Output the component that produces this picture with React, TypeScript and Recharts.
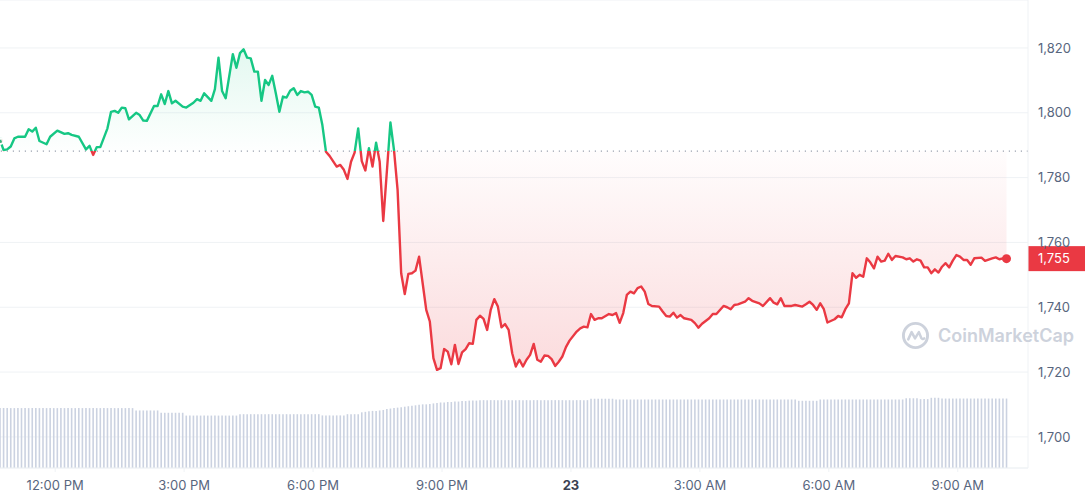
import React from 'react';
import {
  ComposedChart,
  Area,
  Line,
  Bar,
  XAxis,
  YAxis,
  CartesianGrid,
  ReferenceLine,
  ReferenceDot,
} from 'recharts';

const FONT = 'Inter, "Noto Sans", sans-serif';
const GREEN = '#16c784';
const RED = '#ea3943';
const MUTED = '#58667e';
const GRID = '#eff2f5';

// price 24h ago, the dotted reference
const OPEN_PRICE = 1788.2;

// x ticks, minutes after 12:00 PM
const TICK_MINUTES = [0, 180, 360, 540, 720, 900, 1080, 1260];
const TICK_LABELS = ['12:00 PM', '3:00 PM', '6:00 PM', '9:00 PM', '23', '3:00 AM', '6:00 AM', '9:00 AM'];
const PRICE_TICKS = [1700, 1720, 1740, 1760, 1780, 1800, 1820];

// price samples: minutes after 12:00 PM and value
const priceMinutes = [
  -77, -72, -67, -62, -57, -52, -42, -37, -32, -27, -22, -12, -7, 3, 13, 18, 23, 33, 43, 48,
  53, 58, 63, 73, 78, 83, 88, 93, 98, 103, 113, 118, 123, 128, 138, 143, 148, 153, 158, 163,
  168, 178, 183, 193, 198, 203, 208, 218, 223, 228, 233, 238, 248, 253, 258, 263, 268, 273, 278, 283,
  288, 293, 298, 303, 308, 313, 318, 323, 328, 333, 338, 343, 348, 353, 358, 363, 368, 373, 378, 383,
  393, 398, 403, 408, 413, 418, 423, 428, 433, 438, 443, 448, 453, 458, 468, 473, 478, 483, 488, 493,
  498, 503, 508, 513, 518, 523, 528, 533, 538, 543, 548, 553, 558, 563, 568, 573, 578, 583, 588, 593,
  598, 603, 608, 613, 618, 623, 628, 633, 638, 643, 648, 653, 658, 663, 668, 673, 678, 683, 688, 693,
  698, 703, 708, 713, 718, 728, 733, 738, 743, 748, 753, 758, 763, 773, 778, 783, 788, 793, 798, 803,
  808, 813, 818, 823, 828, 833, 843, 848, 853, 858, 863, 868, 873, 878, 888, 893, 898, 903, 913, 918,
  923, 933, 938, 943, 948, 953, 963, 968, 973, 983, 988, 998, 1003, 1008, 1013, 1018, 1028, 1033, 1043, 1048,
  1053, 1058, 1063, 1068, 1073, 1078, 1088, 1093, 1098, 1103, 1108, 1113, 1118, 1123, 1128, 1133, 1138, 1143, 1148, 1153,
  1158, 1163, 1168, 1173, 1183, 1188, 1193, 1198, 1203, 1208, 1213, 1218, 1223, 1228, 1233, 1238, 1243, 1248, 1253, 1258,
  1263, 1268, 1273, 1278, 1283, 1293, 1298, 1308, 1313, 1318, 1323, 1328,
];
const priceValues = [
  1791.6, 1788.5, 1788.7, 1789.6, 1792.1, 1792.6, 1792.6, 1794.9, 1794.2, 1795.4, 1791.3, 1790.3, 1792.6, 1794.5, 1793.5, 1793.7, 1793.2, 1792.6, 1788.7, 1789.8,
  1787.0, 1789.4, 1789.4, 1795.2, 1800.3, 1800.6, 1800.0, 1801.6, 1801.4, 1798.0, 1800.0, 1799.3, 1797.6, 1797.5, 1802.1, 1802.1, 1805.7, 1802.7, 1806.7, 1802.9,
  1803.7, 1801.9, 1801.6, 1803.1, 1804.2, 1803.7, 1806.0, 1803.7, 1807.3, 1817.0, 1806.7, 1804.5, 1818.1, 1813.9, 1818.4, 1819.6, 1817.0, 1816.8, 1812.7, 1812.7,
  1803.7, 1810.1, 1808.6, 1811.4, 1806.0, 1800.3, 1805.0, 1804.7, 1806.8, 1807.6, 1805.5, 1806.7, 1806.3, 1806.5, 1805.5, 1801.9, 1801.6, 1796.2, 1788.0, 1786.7,
  1783.4, 1783.9, 1782.4, 1779.6, 1784.9, 1787.7, 1795.2, 1785.1, 1782.2, 1789.1, 1783.4, 1790.8, 1784.9, 1766.6, 1797.0, 1788.5, 1776.2, 1750.5, 1744.1, 1750.3,
  1750.5, 1751.3, 1755.6, 1747.4, 1739.2, 1735.6, 1724.3, 1720.7, 1721.2, 1727.1, 1726.3, 1722.4, 1728.4, 1722.5, 1726.1, 1727.1, 1728.9, 1728.7, 1736.1, 1737.4,
  1736.4, 1733.0, 1739.2, 1742.5, 1740.2, 1733.8, 1734.8, 1733.0, 1725.8, 1721.7, 1723.8, 1721.7, 1723.8, 1725.3, 1728.7, 1723.8, 1723.2, 1725.1, 1725.0, 1724.0,
  1721.9, 1723.2, 1724.8, 1727.7, 1729.7, 1732.5, 1733.5, 1734.0, 1733.8, 1737.9, 1736.1, 1736.6, 1736.6, 1737.9, 1737.6, 1738.2, 1735.2, 1738.2, 1743.8, 1744.8,
  1744.3, 1745.9, 1746.4, 1744.8, 1741.0, 1740.4, 1740.2, 1738.7, 1737.3, 1737.1, 1738.3, 1736.8, 1737.6, 1736.6, 1736.1, 1735.1, 1733.7, 1734.9, 1736.6, 1737.9,
  1737.9, 1740.4, 1740.0, 1739.4, 1740.7, 1740.9, 1741.7, 1742.8, 1742.0, 1741.2, 1740.4, 1742.8, 1741.4, 1740.9, 1742.8, 1740.4, 1740.4, 1740.7, 1740.2, 1740.9,
  1741.7, 1740.7, 1739.2, 1741.2, 1739.4, 1735.3, 1736.3, 1737.3, 1736.9, 1739.4, 1741.2, 1750.5, 1749.1, 1750.0, 1749.4, 1755.1, 1753.8, 1752.0, 1755.6, 1754.1,
  1754.4, 1756.5, 1754.6, 1755.8, 1755.4, 1754.8, 1755.1, 1754.1, 1754.8, 1754.4, 1752.3, 1752.3, 1750.5, 1751.7, 1750.7, 1752.5, 1753.6, 1752.3, 1754.4, 1756.1,
  1755.6, 1754.6, 1754.6, 1753.1, 1755.1, 1755.3, 1754.3, 1755.1, 1755.4, 1754.8, 1755.1, 1755.0,
];

// 5-minute volume bars (billions), first bar at -77 min
const VOLUME_START = -77;
const VOLUME_STEP = 5;
const volumeValues = [
  6.4, 6.4, 6.4, 6.4, 6.4, 6.4, 6.4, 6.4, 6.4, 6.4, 6.4, 6.4, 6.4, 6.4, 6.4, 6.4, 6.4, 6.4, 6.4, 6.4,
  6.4, 6.4, 6.4, 6.4, 6.4, 6.4, 6.4, 6.4, 6.4, 6.4, 6.4, 6.4, 6.4, 6.4, 6.4, 6.4, 6.4, 6.4,
  6.15, 6.15, 6.15, 6.15, 6.15, 6.15, 6.15,
  5.9, 5.9, 5.9, 5.9, 5.9, 5.9, 5.9,
  5.6, 5.6, 5.6, 5.6, 5.6, 5.6, 5.6, 5.6, 5.6, 5.6, 5.6, 5.6, 5.6, 5.6, 5.6,
  5.75, 5.75, 5.75, 5.75, 5.75, 5.75, 5.75, 5.75, 5.75, 5.75, 5.75, 5.75, 5.75, 5.75, 5.75, 5.75, 5.75, 5.75, 5.75, 5.75, 5.75, 5.75, 5.75,
  5.62, 5.62, 5.62, 5.62, 5.62, 5.62, 5.62,
  5.75, 5.75, 5.75, 5.75,
  5.95, 6.0, 6.05, 6.1, 6.1, 6.15, 6.2,
  6.3, 6.35, 6.4, 6.45, 6.5, 6.55, 6.6,
  6.65, 6.7, 6.75, 6.8, 6.8, 6.85, 6.9, 6.95,
  7.0, 7.0, 7.05, 7.05, 7.1, 7.1, 7.15, 7.15, 7.2, 7.2, 7.2,
  7.25, 7.25, 7.25, 7.25, 7.25, 7.25, 7.25, 7.25, 7.25, 7.25, 7.25, 7.25, 7.25, 7.25, 7.25, 7.25,
  7.25, 7.25, 7.25, 7.25, 7.25, 7.25, 7.25, 7.25, 7.25, 7.25, 7.25, 7.25, 7.25, 7.25, 7.25,
  7.4, 7.4, 7.4, 7.4, 7.4, 7.4, 7.4,
  7.32, 7.32, 7.32, 7.32, 7.32, 7.32, 7.32, 7.32, 7.32, 7.32, 7.32, 7.32, 7.32, 7.32, 7.32, 7.32, 7.32,
  7.32, 7.32, 7.32, 7.32, 7.32, 7.32, 7.32, 7.32, 7.32, 7.32, 7.32, 7.32, 7.32, 7.32, 7.32, 7.32, 7.32,
  7.32, 7.32, 7.32, 7.32, 7.32, 7.32, 7.32, 7.32, 7.32, 7.32, 7.32, 7.32, 7.32, 7.32, 7.32, 7.32, 7.32,
  7.18, 7.18, 7.18, 7.18, 7.18, 7.18,
  7.32, 7.32, 7.32, 7.32, 7.32, 7.32, 7.32, 7.32, 7.32, 7.32, 7.32, 7.32,
  7.32, 7.32, 7.32, 7.32, 7.32, 7.32, 7.32, 7.32, 7.32, 7.32, 7.32, 7.32,
  7.45, 7.45, 7.45, 7.45,
  7.36, 7.36, 7.36,
  7.5, 7.5, 7.5,
  7.42, 7.42, 7.42, 7.42, 7.42, 7.42, 7.42, 7.42, 7.42, 7.42, 7.42, 7.42, 7.42, 7.42, 7.42, 7.42, 7.42, 7.42, 7.42,
];

type Row = { t: number; volume: number; price: number | null };

const rows: Row[] = volumeValues.map((v, i) => ({
  t: VOLUME_START + i * VOLUME_STEP,
  volume: v,
  price: null,
}));
priceMinutes.forEach((t, i) => {
  const idx = Math.round((t - VOLUME_START) / VOLUME_STEP);
  if (rows[idx]) rows[idx].price = priceValues[i];
});

const maxPrice = Math.max(...priceValues);
const minPrice = Math.min(...priceValues);
const splitOffset = (maxPrice - OPEN_PRICE) / (maxPrice - minPrice);
const lastMinute = priceMinutes[priceMinutes.length - 1];
const lastPrice = priceValues[priceValues.length - 1];

const fmt = (v: number) => v.toLocaleString('en-US');

const TimeTick = (props: any) => {
  const { x, y, payload } = props;
  const idx = TICK_MINUTES.indexOf(payload.value);
  const label = TICK_LABELS[idx] ?? '';
  const isDay = label === '23';
  return (
    <text
      x={x}
      y={y}
      dy={16}
      textAnchor="middle"
      fontFamily={FONT}
      fontSize={13}
      fontWeight={isDay ? 700 : 400}
      fill={isDay ? '#3b4252' : MUTED}
    >
      {label}
    </text>
  );
};

const PriceTag = (props: any) => {
  const vb = props.viewBox || {};
  const left = vb.x + vb.width;
  return (
    <g>
      <rect x={left} y={vb.y - 12.5} width={58} height={25} fill={RED} />
      <text
        x={left + 10}
        y={vb.y}
        dy={4.5}
        fontFamily={FONT}
        fontSize={13}
        fill="#ffffff"
      >
        {fmt(lastPrice)}
      </text>
    </g>
  );
};

export default function App() {
  return (
    <div
      style={{
        position: 'absolute',
        left: 0,
        top: 0,
        width: 1085,
        height: 500,
        background: '#fff',
        fontFamily: FONT,
        overflow: 'hidden',
      }}
    >
      <ComposedChart width={1085} height={500} data={rows} margin={{ top: 0, right: 0, bottom: 0, left: 0 }}>
        <defs>
          <linearGradient id="lineSplit" x1="0" y1="0" x2="0" y2="1">
            <stop offset={0} stopColor={GREEN} />
            <stop offset={splitOffset} stopColor={GREEN} />
            <stop offset={splitOffset} stopColor={RED} />
            <stop offset={1} stopColor={RED} />
          </linearGradient>
          <linearGradient id="fillSplit" x1="0" y1="0" x2="0" y2="1">
            <stop offset={0} stopColor={GREEN} stopOpacity={0.2} />
            <stop offset={splitOffset} stopColor={GREEN} stopOpacity={0.01} />
            <stop offset={splitOffset} stopColor={RED} stopOpacity={0.02} />
            <stop offset={1} stopColor={RED} stopOpacity={0.3} />
          </linearGradient>
        </defs>
        <CartesianGrid vertical={false} stroke={GRID} />
        <XAxis
          dataKey="t"
          type="number"
          domain={[-77, 1358]}
          ticks={TICK_MINUTES}
          tick={<TimeTick />}
          tickSize={4}
          tickLine={{ stroke: GRID }}
          axisLine={{ stroke: GRID }}
          height={32}
        />
        <YAxis
          orientation="right"
          width={57}
          domain={[1690.4, 1834.8]}
          ticks={PRICE_TICKS}
          tickFormatter={fmt}
          tick={{ fill: MUTED, fontSize: 13, fontFamily: FONT, textAnchor: 'start' }}
          tickLine={false}
          tickMargin={4}
          axisLine={{ stroke: GRID }}
          allowDataOverflow
        />
        <YAxis yAxisId="vol" hide domain={[0, 50]} />
        <Bar
          dataKey="volume"
          yAxisId="vol"
          barSize={1.6}
          fill="#cbd2e1"
          isAnimationActive={false}
        />
        <ReferenceLine
          y={OPEN_PRICE}
          stroke="#9aa1ae"
          strokeWidth={1.2}
          strokeDasharray="1.2 4.8"
        />
        <Area
          type="linear"
          dataKey="price"
          baseValue={OPEN_PRICE}
          stroke="none"
          fill="url(#fillSplit)"
          connectNulls
          isAnimationActive={false}
        />
        <Line
          type="linear"
          dataKey="price"
          stroke="url(#lineSplit)"
          strokeWidth={2.4}
          strokeLinejoin="round"
          dot={false}
          activeDot={false}
          connectNulls
          isAnimationActive={false}
        />
        <ReferenceDot x={lastMinute} y={lastPrice} r={4.5} fill={RED} stroke="none" />
        <ReferenceLine y={lastPrice} stroke="none" label={<PriceTag />} />
      </ComposedChart>
      <div
        style={{
          position: 'absolute',
          left: 901,
          top: 321,
          display: 'flex',
          alignItems: 'center',
          gap: 8,
          color: '#cdd2dc',
          fontSize: 18,
          fontWeight: 600,
          whiteSpace: 'nowrap',
          pointerEvents: 'none',
        }}
      >
        <svg width={29} height={29} viewBox="0 0 30 30">
          <circle cx={15} cy={15} r={12.5} fill="none" stroke="#cdd2dc" strokeWidth={3} />
          <path
            d="M7.5 19 L11 11.5 L14.5 18 L18.5 11.5 L21 17.5 Q22.5 19.5 24 18"
            fill="none"
            stroke="#cdd2dc"
            strokeWidth={2.6}
            strokeLinecap="round"
            strokeLinejoin="round"
          />
        </svg>
        <span>CoinMarketCap</span>
      </div>
    </div>
  );
}
